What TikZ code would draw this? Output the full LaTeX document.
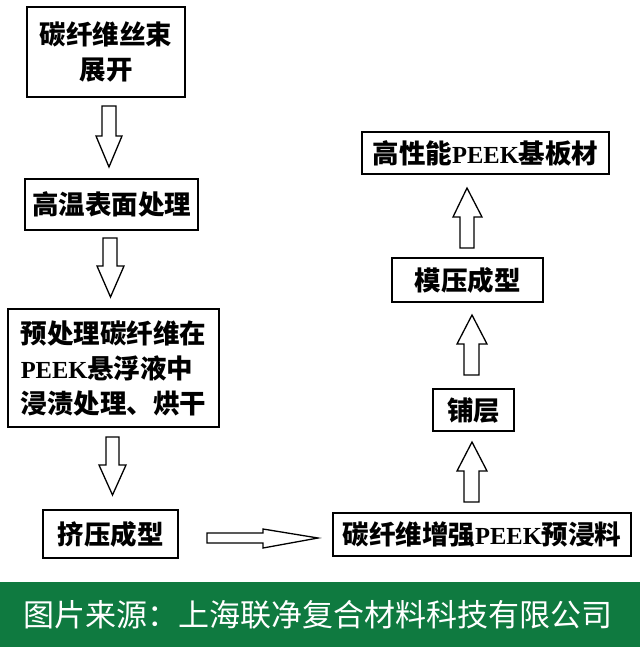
\documentclass[tikz,border=0pt]{standalone}
\usepackage{fontspec}
\newfontfamily\cjk{Noto Sans CJK SC}
\newfontfamily\pkfont{Liberation Serif}
\newcommand\pk{{\pkfont\bfseries\fontsize{24.5}{35}\selectfont PEEK}}
\definecolor{bannergreen}{RGB}{15,122,64}
\tikzset{
  stepbox/.style={draw=black, line width=1.5pt, rectangle, inner sep=0pt,
    font=\cjk\bfseries\fontsize{26.5}{35}\selectfont, align=center},
  blockarrow/.style={draw=black, line width=1.3pt, fill=white, line join=miter},
}
\begin{document}
\begin{tikzpicture}[x=1pt,y=-1pt]
\useasboundingbox (0,0) rectangle (640,647);
\fill[white] (0,0) rectangle (640,647);
% left column
\node[stepbox, minimum width=158pt, minimum height=90pt] (b1) at (106,52) {碳纤维丝束\\展开};
\node[stepbox, minimum width=173pt, minimum height=51pt] (b2) at (111.5,204.5) {高温表面处理};
\node[stepbox, minimum width=211pt, minimum height=118pt, align=left] (b3) at (113.5,368) {预处理碳纤维在\\\pk 悬浮液中\\浸渍处理、烘干};
\node[stepbox, minimum width=135pt, minimum height=48pt] (b4) at (110.5,534) {挤压成型};
% right column
\node[stepbox, minimum width=247pt, minimum height=42pt] (r1) at (485.5,153) {高性能\pk 基板材};
\node[stepbox, minimum width=151pt, minimum height=44pt] (r2) at (467.5,280) {模压成型};
\node[stepbox, minimum width=81pt, minimum height=42pt] (r3) at (473.5,410) {铺层};
\node[stepbox, minimum width=298pt, minimum height=43pt] (r4) at (482,534.5) {碳纤维增强\pk 预浸料};
% down arrows
\draw[blockarrow] (102,106) -- (116,106) -- (116,136) -- (122,136) -- (109,167) -- (96,136) -- (102,136) -- cycle;
\draw[blockarrow] (103,238) -- (117,238) -- (117,266) -- (124,266) -- (110.5,297) -- (97,266) -- (103,266) -- cycle;
\draw[blockarrow] (106,437) -- (119,437) -- (119,465) -- (126,465) -- (112.5,495) -- (99,465) -- (106,465) -- cycle;
% horizontal arrow
\draw[blockarrow] (207,533) -- (263,533) -- (263,529) -- (318,538) -- (263,548) -- (263,543) -- (207,543) -- cycle;
% up arrows
\draw[blockarrow] (460,248) -- (474,248) -- (474,217) -- (482,217) -- (467,188) -- (453,217) -- (460,217) -- cycle;
\draw[blockarrow] (464,375) -- (479,375) -- (479,344) -- (487,344) -- (472,315) -- (457,344) -- (464,344) -- cycle;
\draw[blockarrow] (464,502) -- (479,502) -- (479,471) -- (487,471) -- (472,442) -- (457,471) -- (464,471) -- cycle;
% banner
\fill[bannergreen] (0,582) rectangle (640,647);
\node[text=white, font=\cjk\fontsize{31}{35}\selectfont, inner sep=0pt] (src) at (318,615) {图片来源：上海联净复合材料科技有限公司};
\end{tikzpicture}
\end{document}
